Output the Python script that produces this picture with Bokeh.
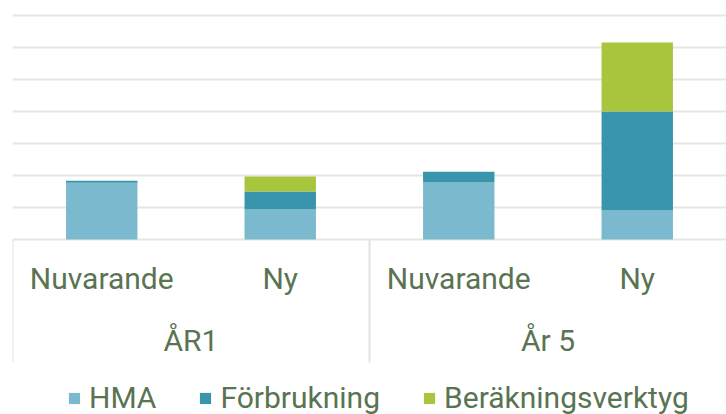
from bokeh.plotting import figure
from bokeh.models import FactorRange, Range1d, FixedTicker, Legend, LegendItem, ColumnDataSource
from bokeh.core.properties import value
from bokeh.embed import file_html
from bokeh.resources import INLINE

groups = ["ÅR1", "År 5"]
subs = ["Nuvarande", "Ny"]
factors = [(g, s) for g in groups for s in subs]
series = ["HMA", "Förbrukning", "Beräkningsverktyg"]
hma = [1.77, 0.94, 1.78, 0.91]
forbrukning = [0.07, 0.56, 0.34, 3.09]
berakning = [0.0, 0.47, 0.0, 2.16]
grid_ticks = [0, 1, 2, 3, 4, 5, 6, 7]
colors = ["#7bb9cf", "#3995ac", "#a9c53e"]

TEXT = "#5a7352"
FONT = "Roboto"
LINE = "#e2e5dc"

p = figure(x_range=FactorRange(*factors, factor_padding=0, group_padding=0, range_padding=0),
           y_range=Range1d(-5.47, 7.47), width=726, height=414,
           output_backend="svg", toolbar_location=None,
           min_border_left=12, min_border_right=0, min_border_top=0, min_border_bottom=0)

data = dict(x=factors, HMA=hma, Förbrukning=forbrukning, Beräkningsverktyg=berakning)
rs = p.vbar_stack(series, x="x", width=0.4, source=data, color=colors, line_color=None)

p.outline_line_color = None
p.xaxis.visible = False
p.yaxis.visible = False
p.xgrid.grid_line_color = None
p.ygrid.ticker = FixedTicker(ticks=grid_ticks)
p.ygrid.grid_line_color = "#e3e8dc"
p.ygrid.grid_line_width = 2

# category separators of the axis area (group edges in synthetic coordinates)
edges = [0, len(subs)]
p.segment(x0=edges, x1=edges, y0=0, y1=-3.84, line_color=LINE, line_width=2)

# nested category labels
sub_src = ColumnDataSource(dict(x=factors, text=[s for g in groups for s in subs]))
p.text(x="x", y=-1.23, text="text", source=sub_src, text_align="center",
       text_baseline="alphabetic", text_font=value(FONT), text_font_size="30px",
       text_color=TEXT)
grp_src = ColumnDataSource(dict(x=groups, text=groups))
p.text(x="x", y=-3.15, text="text", source=grp_src, text_align="center",
       text_baseline="alphabetic", text_font=value(FONT), text_font_size="30px",
       text_color=TEXT)

legend = Legend(items=[LegendItem(label=s, renderers=[r]) for s, r in zip(series, rs)],
                orientation="horizontal", location=(55, -1),
                label_text_font=FONT, label_text_font_size="30px", label_text_color=TEXT,
                glyph_width=14, glyph_height=14, label_standoff=8, spacing=42,
                padding=0, margin=0, label_height=30,
                border_line_color=None, background_fill_alpha=0)
p.add_layout(legend, "center")

out = open("out.html", "w")
out.write(file_html(p, INLINE))
out.close()
